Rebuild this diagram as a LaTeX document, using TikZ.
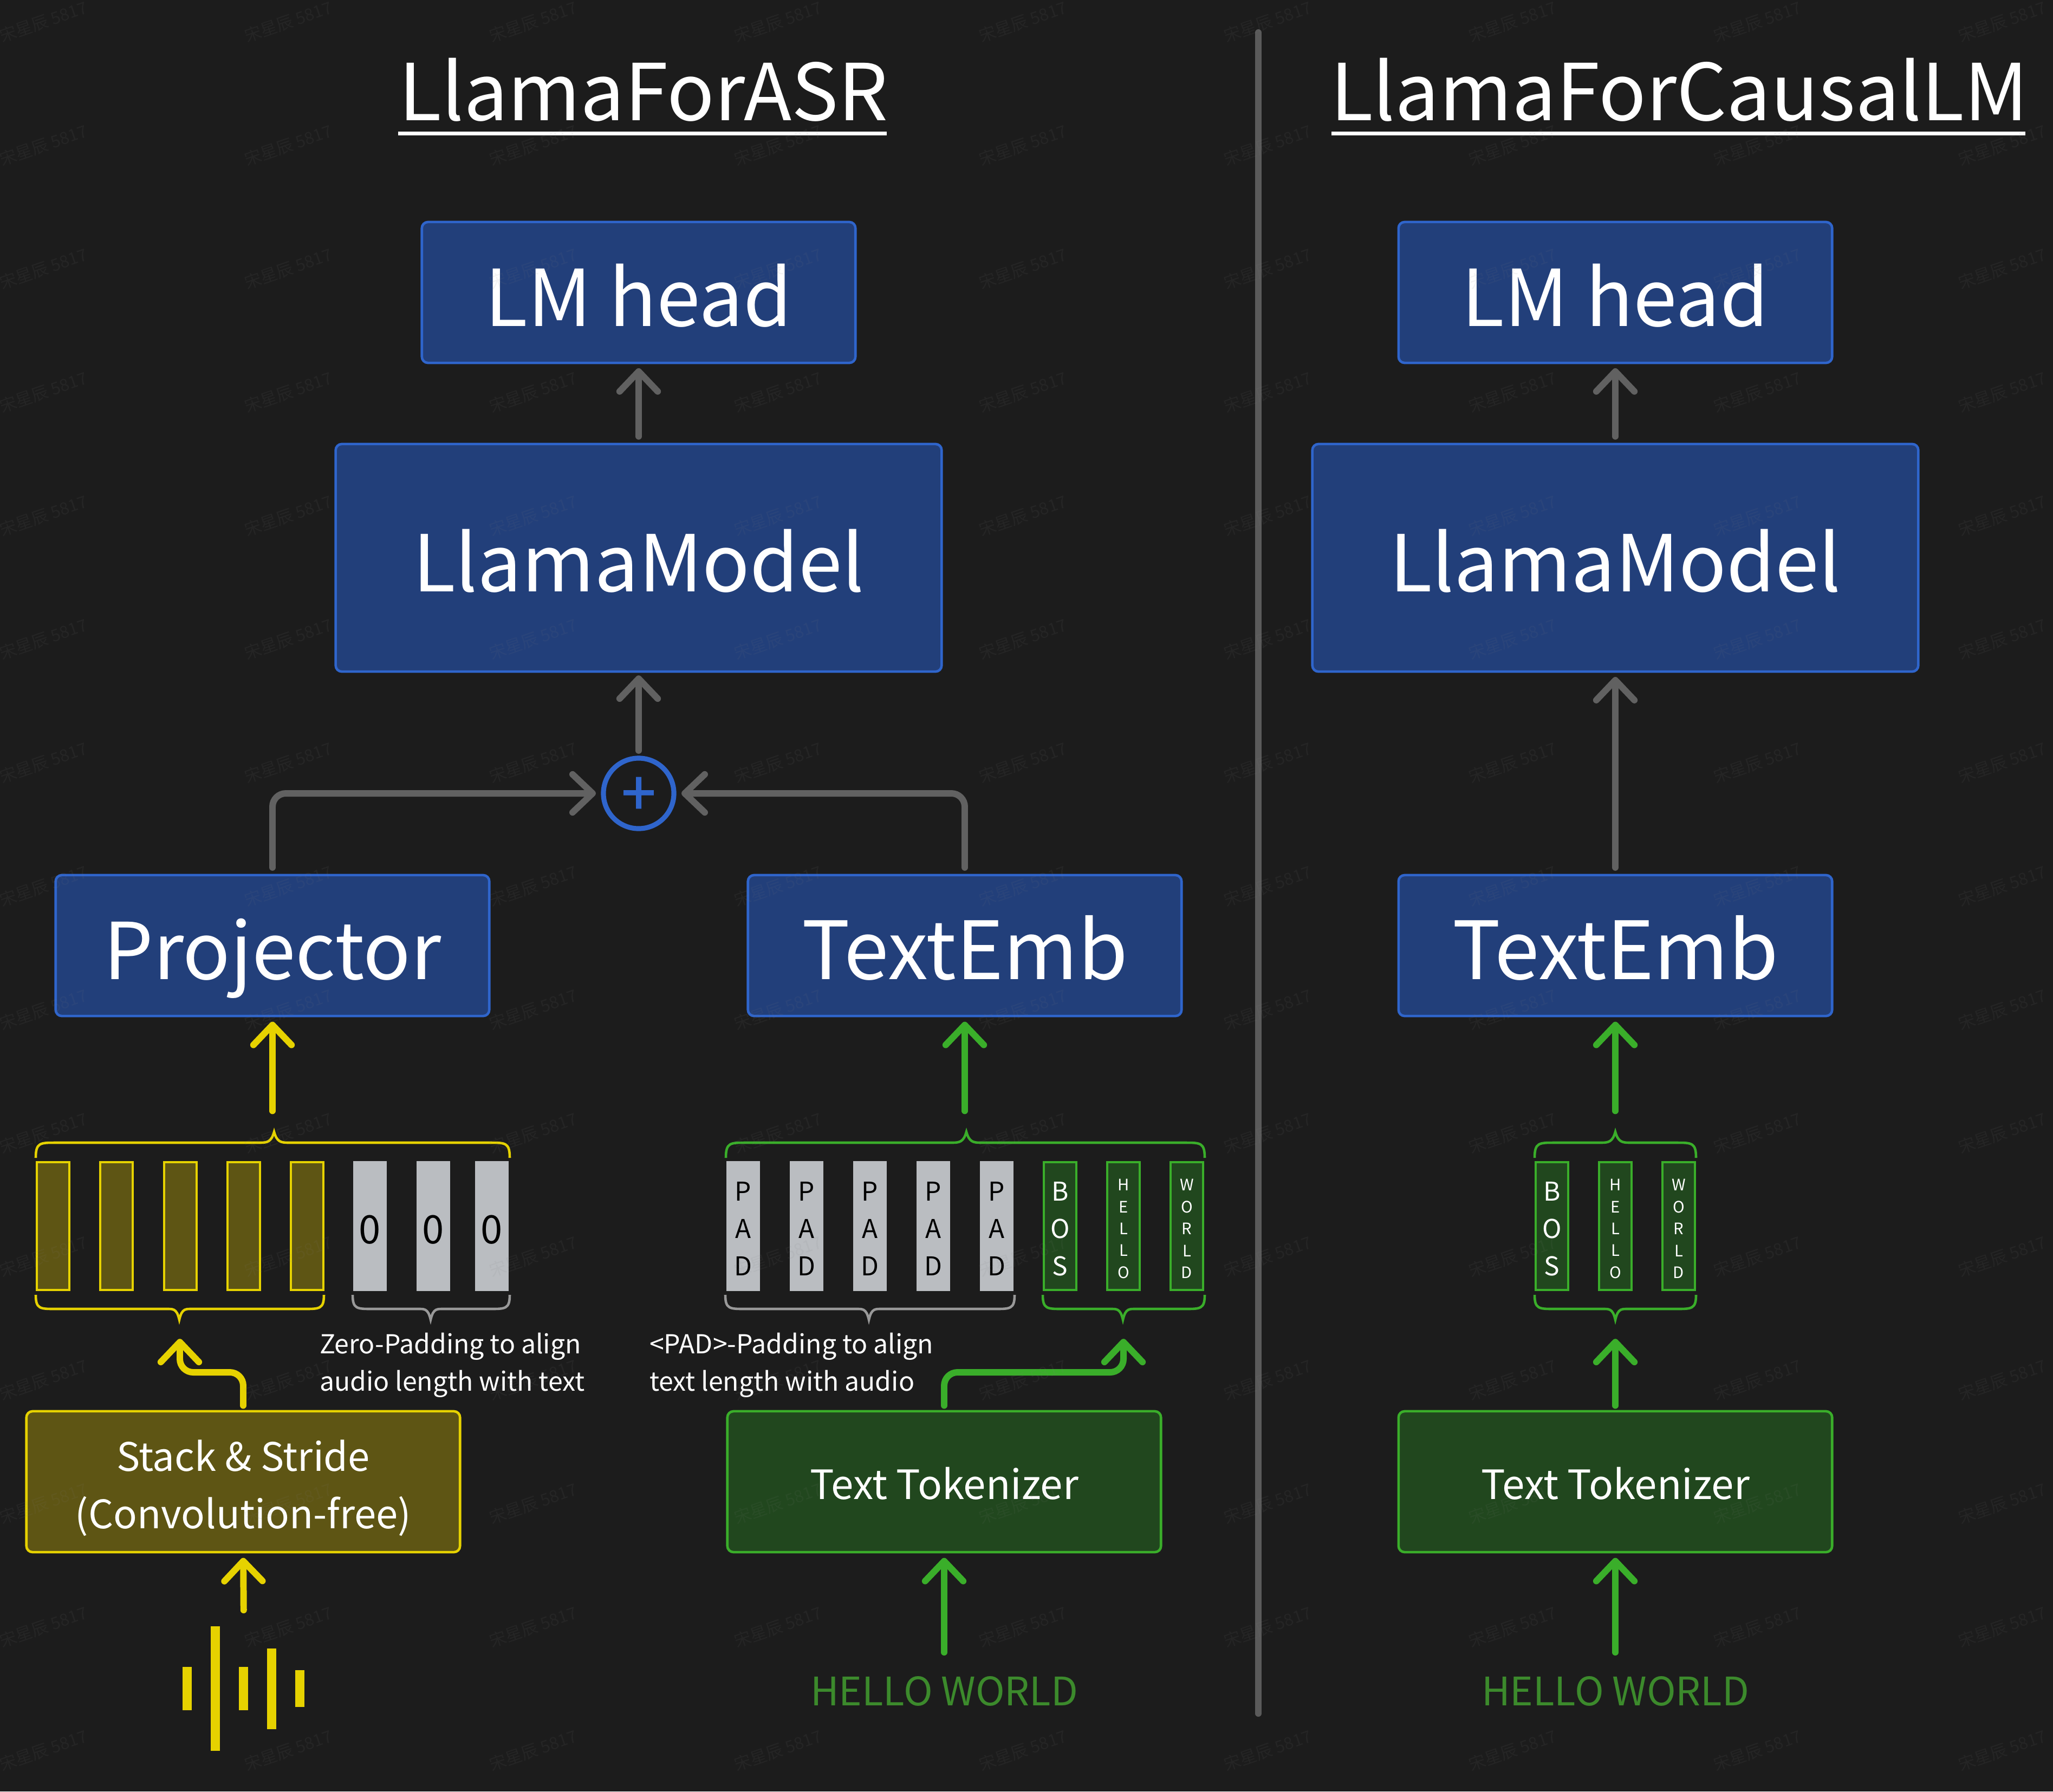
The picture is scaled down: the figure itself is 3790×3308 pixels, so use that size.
\documentclass[tikz,border=0pt]{standalone}
\usepackage{fontspec}
\setmainfont{Noto Sans CJK SC}
\newfontfamily\plusfont[FakeBold=1.6]{Noto Sans CJK SC}
\usetikzlibrary{arrows.meta,calc}
\definecolor{bgc}{HTML}{1C1C1C}
\definecolor{blueF}{HTML}{223F7A}
\definecolor{blueL}{HTML}{2F65CC}
\definecolor{yelL}{HTML}{E6D200}
\definecolor{yelF}{HTML}{5E5514}
\definecolor{grnL}{HTML}{3AAE2A}
\definecolor{grnF}{HTML}{21471E}
\definecolor{grnT}{HTML}{3C8A2C}
\definecolor{barG}{HTML}{BABDC1}
\definecolor{brcG}{HTML}{999999}
\definecolor{arrG}{HTML}{616161}
\definecolor{divG}{HTML}{5A5A5A}
\newcommand\bigf{\fontsize{41.2pt}{50pt}\selectfont}
\newcommand\embf{\fontsize{42.2pt}{50pt}\selectfont}
\newcommand\midf{\fontsize{20.6pt}{30.2pt}\selectfont}
\newcommand\tokf{\fontsize{21.2pt}{30pt}\selectfont}
\newcommand\smlf{\fontsize{13.7pt}{19.6pt}\selectfont}
\newcommand\barf{\fontsize{13.6pt}{19.6pt}\selectfont}
\newcommand\tinyf{\fontsize{8.3pt}{11.5pt}\selectfont}
\newcommand\curly[7]{\draw[#1,line width=1.3pt,line join=miter,miter limit=20]
  (#2,#5) .. controls (#2,#6) and ({#2+8},#6) .. ({#2+36},#6) -- ({#4-26},#6)
  .. controls ({#4-12},#6) and ({#4-5},{#6-2}) .. (#4,#7)
  .. controls ({#4+5},{#6-2}) and ({#4+12},#6) .. ({#4+26},#6) -- ({#3-36},#6)
  .. controls ({#3-8},#6) and (#3,#6) .. (#3,#5);}
\tikzset{
  x=0.01cm,y=-0.01cm,
  every node/.style={outer sep=0pt,inner sep=0pt,text=white},
  boxbase/.style={draw,line width=1.3pt,rounded corners=3.2pt,minimum width=8cm,minimum height=2.6cm},
  bluebox/.style={boxbase,draw=blueL,fill=blueF,node font=\bigf,text height=35.8pt,text depth=0pt},
  yelbox/.style={boxbase,draw=yelL,fill=yelF},
  grnbox/.style={boxbase,draw=grnL,fill=grnF,node font=\tokf,text height=18.2pt,text depth=0pt},
  barbase/.style={minimum width=0.6cm,minimum height=2.36cm,line width=1.3pt},
  ybar/.style={barbase,draw=yelL,fill=yelF},
  gbar/.style={barbase,draw=grnL,fill=grnF},
  pbar/.style={barbase,minimum width=0.62cm,minimum height=2.4cm,fill=barG},
  barlab/.style={yshift=-0.05cm,align=center},
  conn/.style={line width=3.4pt,line cap=round,line join=round,rounded corners=7pt,
    -{Straight Barb[length=10.5pt,width=20pt,round]}},
  garrow/.style={conn,draw=arrG},
  yarrow/.style={conn,draw=yelL},
  grarrow/.style={conn,draw=grnL},
  note/.style={anchor=base west,align=left,node font=\smlf},
  ttl/.style={anchor=base,node font=\bigf},
  hello/.style={anchor=base,text=grnT,node font=\midf},
  wmark/.style={anchor=center,rotate=19,text=gray,text opacity=0.09,font=\fontsize{8.8pt}{10pt}\selectfont},
  wave/.style={fill=yelL},
}
\begin{document}
\begin{tikzpicture}
\useasboundingbox (0,0) rectangle (3790,3308);
\fill[bgc] (0,0) rectangle (3790,3308);
% titles
\node[ttl] (t1) at (1188,222) {LlamaForASR};
\node[ttl] (t2) at (3100,222) {LlamaForCausalLM};
\fill[white] (735,243) rectangle (1637,250);
\fill[white] (2458,243) rectangle (3739,250);
% divider
\draw[divG,line width=3.4pt,line cap=round] (2323,60) -- (2323,3164);
% blue boxes, left
\node[bluebox] (lm1) at (1179,540) {LM head};
\node[bluebox,minimum width=11.18cm,minimum height=4.2cm] (mod1) at (1179,1030) {LlamaModel};
\node[bluebox] (proj) at (503,1746) {Projector};
\node[bluebox,node font=\embf] (emb1) at (1781,1746) {TextEmb};
\node[circle,draw=blueL,line width=2.6pt,minimum size=1.3cm,text=blueL,font=\fontsize{32pt}{32pt}\plusfont\selectfont,text height=23pt,text depth=0pt] (plus) at (1179,1465) {+};
% blue boxes, right
\node[bluebox] (lm2) at (2982,540) {LM head};
\node[bluebox,minimum width=11.18cm,minimum height=4.2cm] (mod2) at (2982,1030) {LlamaModel};
\node[bluebox,node font=\embf] (emb2) at (2982,1746) {TextEmb};
% lower boxes
\node[yelbox,label={[name=stacklab,yshift=-0.12cm,align=center,node font=\midf]center:{Stack \& Stride\\(Convolution-free)}}] (stack) at (449,2736) {};
\node[grnbox] (tok1) at (1743,2736) {Text Tokenizer};
\node[grnbox] (tok2) at (2982,2736) {Text Tokenizer};
% bars: audio
\foreach \x/\n in {98/a,215/b,333/c,450/d,567/e}
  \node[ybar] (y\n) at (\x,2264) {};
\foreach \x/\n in {683/a,800/b,908/c}
  \node[pbar,label={[name=zl\n,barlab,yshift=-0.02cm,text=black,node font=\midf]center:0}] (z\n) at (\x,2264) {};
% bars: text, left
\foreach \x/\n in {1372/a,1489/b,1606/c,1723/d,1840/e}
  \node[pbar,label={[name=pl\n,barlab,text=black,node font=\barf]center:{P\\A\\D}}] (p\n) at (\x,2264) {};
\node[gbar,label={[name=bosl1,barlab,node font=\barf]center:{B\\O\\S}}] (bos1) at (1957,2264) {};
\node[gbar,label={[name=hell1,barlab,node font=\tinyf]center:{H\\E\\L\\L\\O}}] (hel1) at (2074,2264) {};
\node[gbar,label={[name=worl1,barlab,node font=\tinyf]center:{W\\O\\R\\L\\D}}] (wor1) at (2191,2264) {};
% bars: text, right
\node[gbar,label={[name=bosl2,barlab,node font=\barf]center:{B\\O\\S}}] (bos2) at (2865,2264) {};
\node[gbar,label={[name=hell2,barlab,node font=\tinyf]center:{H\\E\\L\\L\\O}}] (hel2) at (2982,2264) {};
\node[gbar,label={[name=worl2,barlab,node font=\tinyf]center:{W\\O\\R\\L\\D}}] (wor2) at (3099,2264) {};
% braces
\curly{draw=yelL}{66}{941}{506}{2138}{2110}{2090}
\curly{draw=yelL}{66}{598}{331}{2391}{2417}{2437}
\curly{draw=brcG}{651}{941}{795}{2391}{2417}{2437}
\curly{draw=grnL}{1340}{2224}{1784}{2138}{2110}{2090}
\curly{draw=brcG}{1339}{1873}{1604}{2391}{2417}{2437}
\curly{draw=grnL}{1925}{2224}{2073}{2391}{2417}{2437}
\curly{draw=grnL}{2833}{3131}{2982}{2138}{2110}{2090}
\curly{draw=grnL}{2833}{3131}{2982}{2391}{2417}{2437}
% brace tips as connector ends
\coordinate (bt1) at (503,2090);
\coordinate (bt2) at (1781,2090);
\coordinate (bt3) at (2982,2090);
\coordinate (bb1) at (332,2437);
\coordinate (bb2) at (2074,2437);
\coordinate (bb3) at (2982,2437);
\coordinate (em1) at (332,2534);
\coordinate (em2) at (2074,2534);
\coordinate (wav) at (450,3003);
\node[hello] (hw1) at (1743,3149) {HELLO WORLD};
\node[hello] (hw2) at (2982,3149) {HELLO WORLD};
% notes
\node[note] (n1) at (590,2568) {Zero-Padding to align\\audio length with text};
\node[note] (n2) at (1199,2568) {<PAD>-Padding to align\\text length with audio};
% audio wave
\fill[wave] (337,3078) rectangle (354,3158);
\fill[wave] (389,3003) rectangle (406,3233);
\fill[wave] (441,3078) rectangle (458,3158);
\fill[wave] (493,3044) rectangle (510,3193);
\fill[wave] (545,3084) rectangle (562,3152);
% connectors, gray
\draw[garrow,shorten >=2.8pt,shorten <=4pt] (mod1.north) -- (lm1.south);
\draw[garrow,shorten >=2pt,shorten <=4pt] (plus.north) -- (mod1.south);
\draw[garrow,shorten >=4pt,shorten <=4pt] (proj.north) |- (plus.west);
\draw[garrow,shorten >=4pt,shorten <=4pt] (emb1.north) |- (plus.east);
\draw[garrow,shorten >=2.8pt,shorten <=4pt] (mod2.north) -- (lm2.south);
\draw[garrow,shorten >=2.8pt,shorten <=4pt] (emb2.north) -- (mod2.south);
% connectors, coloured
\draw[yarrow,shorten >=3pt,shorten <=11pt] (bt1) -- (proj.south);
\draw[grarrow,shorten >=3pt,shorten <=11pt] (bt2) -- (emb1.south);
\draw[grarrow,shorten >=3pt,shorten <=11pt] (bt3) -- (emb2.south);
\draw[yarrow,shorten >=10pt,shorten <=3pt] (stack.north) |- (em1) -- (bb1);
\draw[grarrow,shorten >=10pt,shorten <=3pt] (tok1.north) |- (em2) -- (bb2);
\draw[grarrow,shorten >=10pt,shorten <=3pt] (tok2.north) -- (bb3);
\draw[yarrow,shorten >=3pt,shorten <=8.5pt] (wav) -- (stack.south);
\draw[grarrow,shorten >=3pt,shorten <=12.5pt] (hw1.north) -- (tok1.south);
\draw[grarrow,shorten >=3pt,shorten <=12.5pt] (hw2.north) -- (tok2.south);
% watermark
\foreach \x in {80,532,984,1436,1888,2340,2792,3244,3696}
  \foreach \y in {40,268,496,724,952,1180,1408,1636,1864,2092,2320,2548,2776,3004,3232}
    \node[wmark] (wm-\x-\y) at (\x,\y) {宋星辰 5817};
\end{tikzpicture}
\end{document}
